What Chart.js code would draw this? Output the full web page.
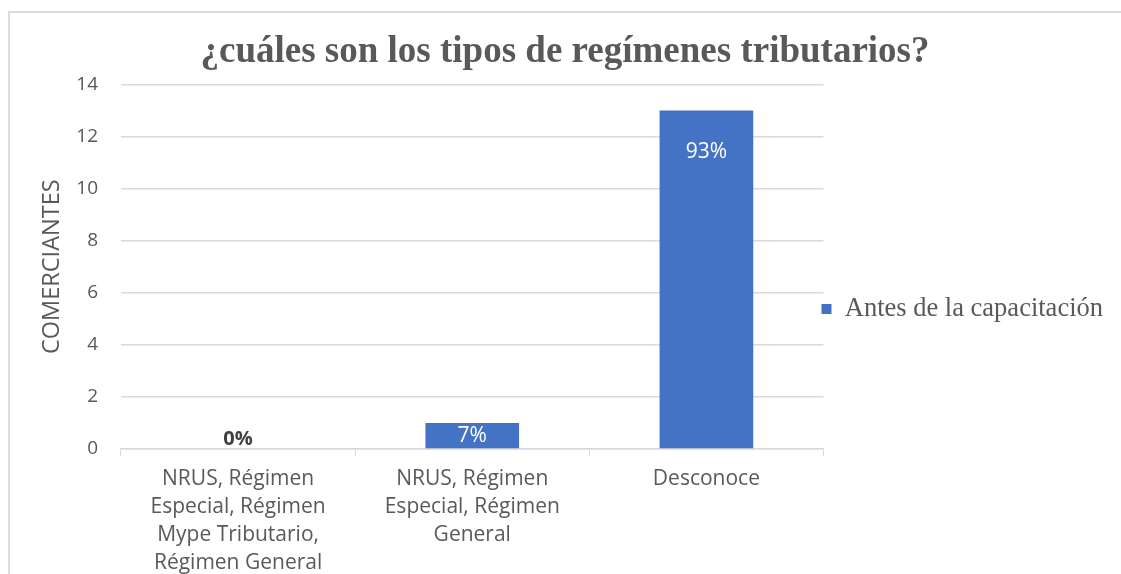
<!DOCTYPE html>
<html>
<head>
<meta charset="utf-8">
<script src="https://cdn.jsdelivr.net/npm/chart.js@4.4.1/dist/chart.umd.min.js"></script>
<style>
  html, body { margin: 0; padding: 0; background: #fff; }
  #wrap { position: relative; width: 1121px; height: 574px; overflow: hidden; }
  #frame {
    position: absolute; left: 8px; top: 11px; width: 1200px; height: 700px;
    border: 2px solid #dcdcdc; box-sizing: border-box;
  }
  #chart { position: absolute; left: 0; top: 0; }
</style>
</head>
<body>
<div id="wrap">
  <div id="frame"></div>
  <canvas id="chart" width="1121" height="574"></canvas>
</div>
<script>
// =========================
// Data
// =========================
const categories = [
  ["NRUS, Régimen", "Especial, Régimen", "Mype Tributario,", "Régimen General"],
  ["NRUS, Régimen", "Especial, Régimen", "General"],
  ["Desconoce"],
];
const comerciantes = [0, 1, 13];
const percentLabels = ["0%", "7%", "93%"];
const yTicks = [0, 2, 4, 6, 8, 10, 12, 14];

const seriesName = "Antes de la capacitación";
const chartTitle = "¿cuáles son los tipos de regímenes tributarios?";
const yTitle = "COMERCIANTES";

const SERIF = "'Liberation Serif', 'Times New Roman', serif";
const SANS = "'Open Sans', sans-serif";

// =========================
// Bar value labels (like Excel data labels)
// =========================
const barLabels = {
  id: "barLabels",
  afterDatasetsDraw(chart) {
    const ctx = chart.ctx;
    const meta = chart.getDatasetMeta(0);
    ctx.save();
    ctx.textAlign = "center";
    ctx.textBaseline = "middle";
    meta.data.forEach((bar, i) => {
      const text = percentLabels[i];
      const h = bar.base - bar.y;
      let y;
      if (h <= 0) {
        ctx.font = "bold 20px " + SANS;
        ctx.fillStyle = "#404040";
        y = bar.base - 10;
      } else if (h < 40) {
        ctx.font = "21px " + SANS;
        ctx.fillStyle = "#ffffff";
        y = bar.y + h / 2;
      } else {
        ctx.font = "21px " + SANS;
        ctx.fillStyle = "#ffffff";
        y = bar.y + 42;
      }
      ctx.fillText(text, bar.x, y);
    });
    ctx.restore();
  },
};

// nudge title / legend a little, Excel places them slightly differently
const blockNudge = {
  id: "blockNudge",
  afterLayout(chart) {
    const l = chart.legend;
    if (l) {
      l.top += 1;
      l.bottom += 1;
      l.left -= 4;
      l.right -= 4;
    }
    const t = chart.titleBlock;
    if (t) {
      t.left += 13;
    }
  },
};

// =========================
// Chart
// =========================
const ctx = document.getElementById("chart");
new Chart(ctx, {
  type: "bar",
  data: {
    labels: categories,
    datasets: [
      {
        label: seriesName,
        data: comerciantes,
        backgroundColor: "#4472c4",
        categoryPercentage: 1,
        barPercentage: 0.4,
      },
    ],
  },
  options: {
    responsive: false,
    animation: false,
    devicePixelRatio: 1,
    layout: { padding: { left: 0, right: 4, top: 30, bottom: -12 } },
    plugins: {
      title: {
        display: true,
        text: chartTitle,
        color: "#595959",
        font: { family: SERIF, size: 37, weight: "bold" },
        padding: { top: 0, bottom: 10 },
      },
      legend: {
        position: "right",
        maxWidth: 320,
        labels: {
          color: "#595959",
          font: { family: SERIF, size: 26.5 },
          boxWidth: 10,
          boxHeight: 10,
          padding: 2,
        },
      },
      tooltip: { enabled: false },
    },
    scales: {
      x: {
        grid: {
          offset: true,
          drawOnChartArea: false,
          color: "#d9d9d9",
          tickLength: 7,
        },
        border: { color: "#d9d9d9", width: 1.5 },
        ticks: {
          color: "#595959",
          font: { family: SANS, size: 21, lineHeight: 1.333 },
          padding: 9,
          maxRotation: 0,
        },
      },
      y: {
        min: 0,
        max: 14,
        afterBuildTicks: (axis) => {
          axis.ticks = yTicks.map((v) => ({ value: v }));
        },
        afterFit: (axis) => {
          axis.width = 121;
        },
        grid: { color: "#d9d9d9", lineWidth: 1.5, drawTicks: false },
        border: { display: false },
        ticks: {
          color: "#595959",
          font: { family: SANS, size: 19 },
          padding: 23,
        },
        title: {
          display: true,
          text: yTitle,
          color: "#595959",
          font: { family: SANS, size: 23.5 },
          padding: { top: 38, bottom: 0 },
        },
      },
    },
  },
  plugins: [barLabels, blockNudge],
});
</script>
</body>
</html>
